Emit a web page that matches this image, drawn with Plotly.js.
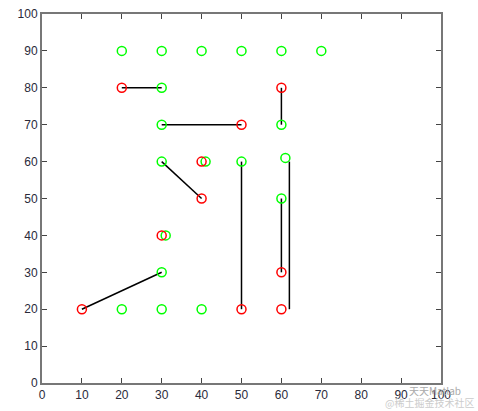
<!DOCTYPE html>
<html><head><meta charset="utf-8">
<script src="https://cdn.plot.ly/plotly-3.0.1.min.js"></script>
<style>html,body{margin:0;padding:0;background:#fff;}</style>
</head><body>
<div id="chart" style="width:478px;height:411px;"></div>
<script>
// Green (free) points
const greenX = [20,30,40,50,60,70, 30, 30, 60, 30, 41, 50, 61, 60, 31, 30, 20, 30, 40];
const greenY = [90,90,90,90,90,90, 80, 70, 70, 60, 60, 60, 61, 50, 40, 30, 20, 20, 20];
// Red points
const redX = [20, 50, 60, 40, 40, 30, 60, 10, 50, 60];
const redY = [80, 70, 80, 60, 50, 40, 30, 20, 20, 20];
// Connecting segments [x1,y1,x2,y2]
const segX1 = [20, 30, 60, 30, 50, 60, 62, 10];
const segY1 = [80, 70, 80, 60, 60, 50, 60, 20];
const segX2 = [30, 50, 60, 40, 50, 60, 62, 30];
const segY2 = [80, 70, 70, 50, 20, 30, 20, 30];

const lx = [], ly = [];
for (let i = 0; i < segX1.length; i++) {
  lx.push(segX1[i], segX2[i], null);
  ly.push(segY1[i], segY2[i], null);
}

const traces = [
  {x: lx, y: ly, mode: 'lines', line: {color: '#000', width: 1.5}, hoverinfo: 'skip'},
  {x: greenX, y: greenY, mode: 'markers',
   marker: {symbol: 'circle-open', size: 9, color: '#00ff00', line: {width: 1.5, color: '#00ff00'}}},
  {x: redX, y: redY, mode: 'markers',
   marker: {symbol: 'circle-open', size: 9, color: '#ff0000', line: {width: 1.5, color: '#ff0000'}}}
];

const axisCommon = {
  range: [0, 100], dtick: 10, tick0: 0,
  ticks: 'inside', ticklen: 5, tickcolor: '#444', tickwidth: 1,
  showgrid: false, zeroline: false, showline: true, linecolor: '#777', linewidth: 2,
  mirror: 'ticks',
  tickfont: {family: 'Liberation Sans, Arial, sans-serif', size: 12, color: '#2a2a3a'},
  fixedrange: true
};

const layout = {
  width: 478, height: 411,
  margin: {l: 42, r: 37, t: 14, b: 28},
  paper_bgcolor: '#fff', plot_bgcolor: '#fff',
  showlegend: false,
  xaxis: Object.assign({}, axisCommon),
  yaxis: Object.assign({}, axisCommon),
  annotations: [
    {xref: 'paper', yref: 'paper', x: 1.055, y: -0.019, xanchor: 'right', yanchor: 'middle',
     text: '天天Matlab', showarrow: false, font: {size: 10, color: '#aaa', family: 'Noto Sans CJK SC, sans-serif'}},
    {xref: 'paper', yref: 'paper', x: 1.088, y: -0.054, xanchor: 'right', yanchor: 'middle',
     text: '@稀土掘金技术社区', showarrow: false, font: {size: 10, color: '#ccc', family: 'Noto Sans CJK SC, sans-serif'}}
  ]
};

Plotly.newPlot('chart', traces, layout, {displayModeBar: false, staticPlot: true});
</script>
</body></html>
